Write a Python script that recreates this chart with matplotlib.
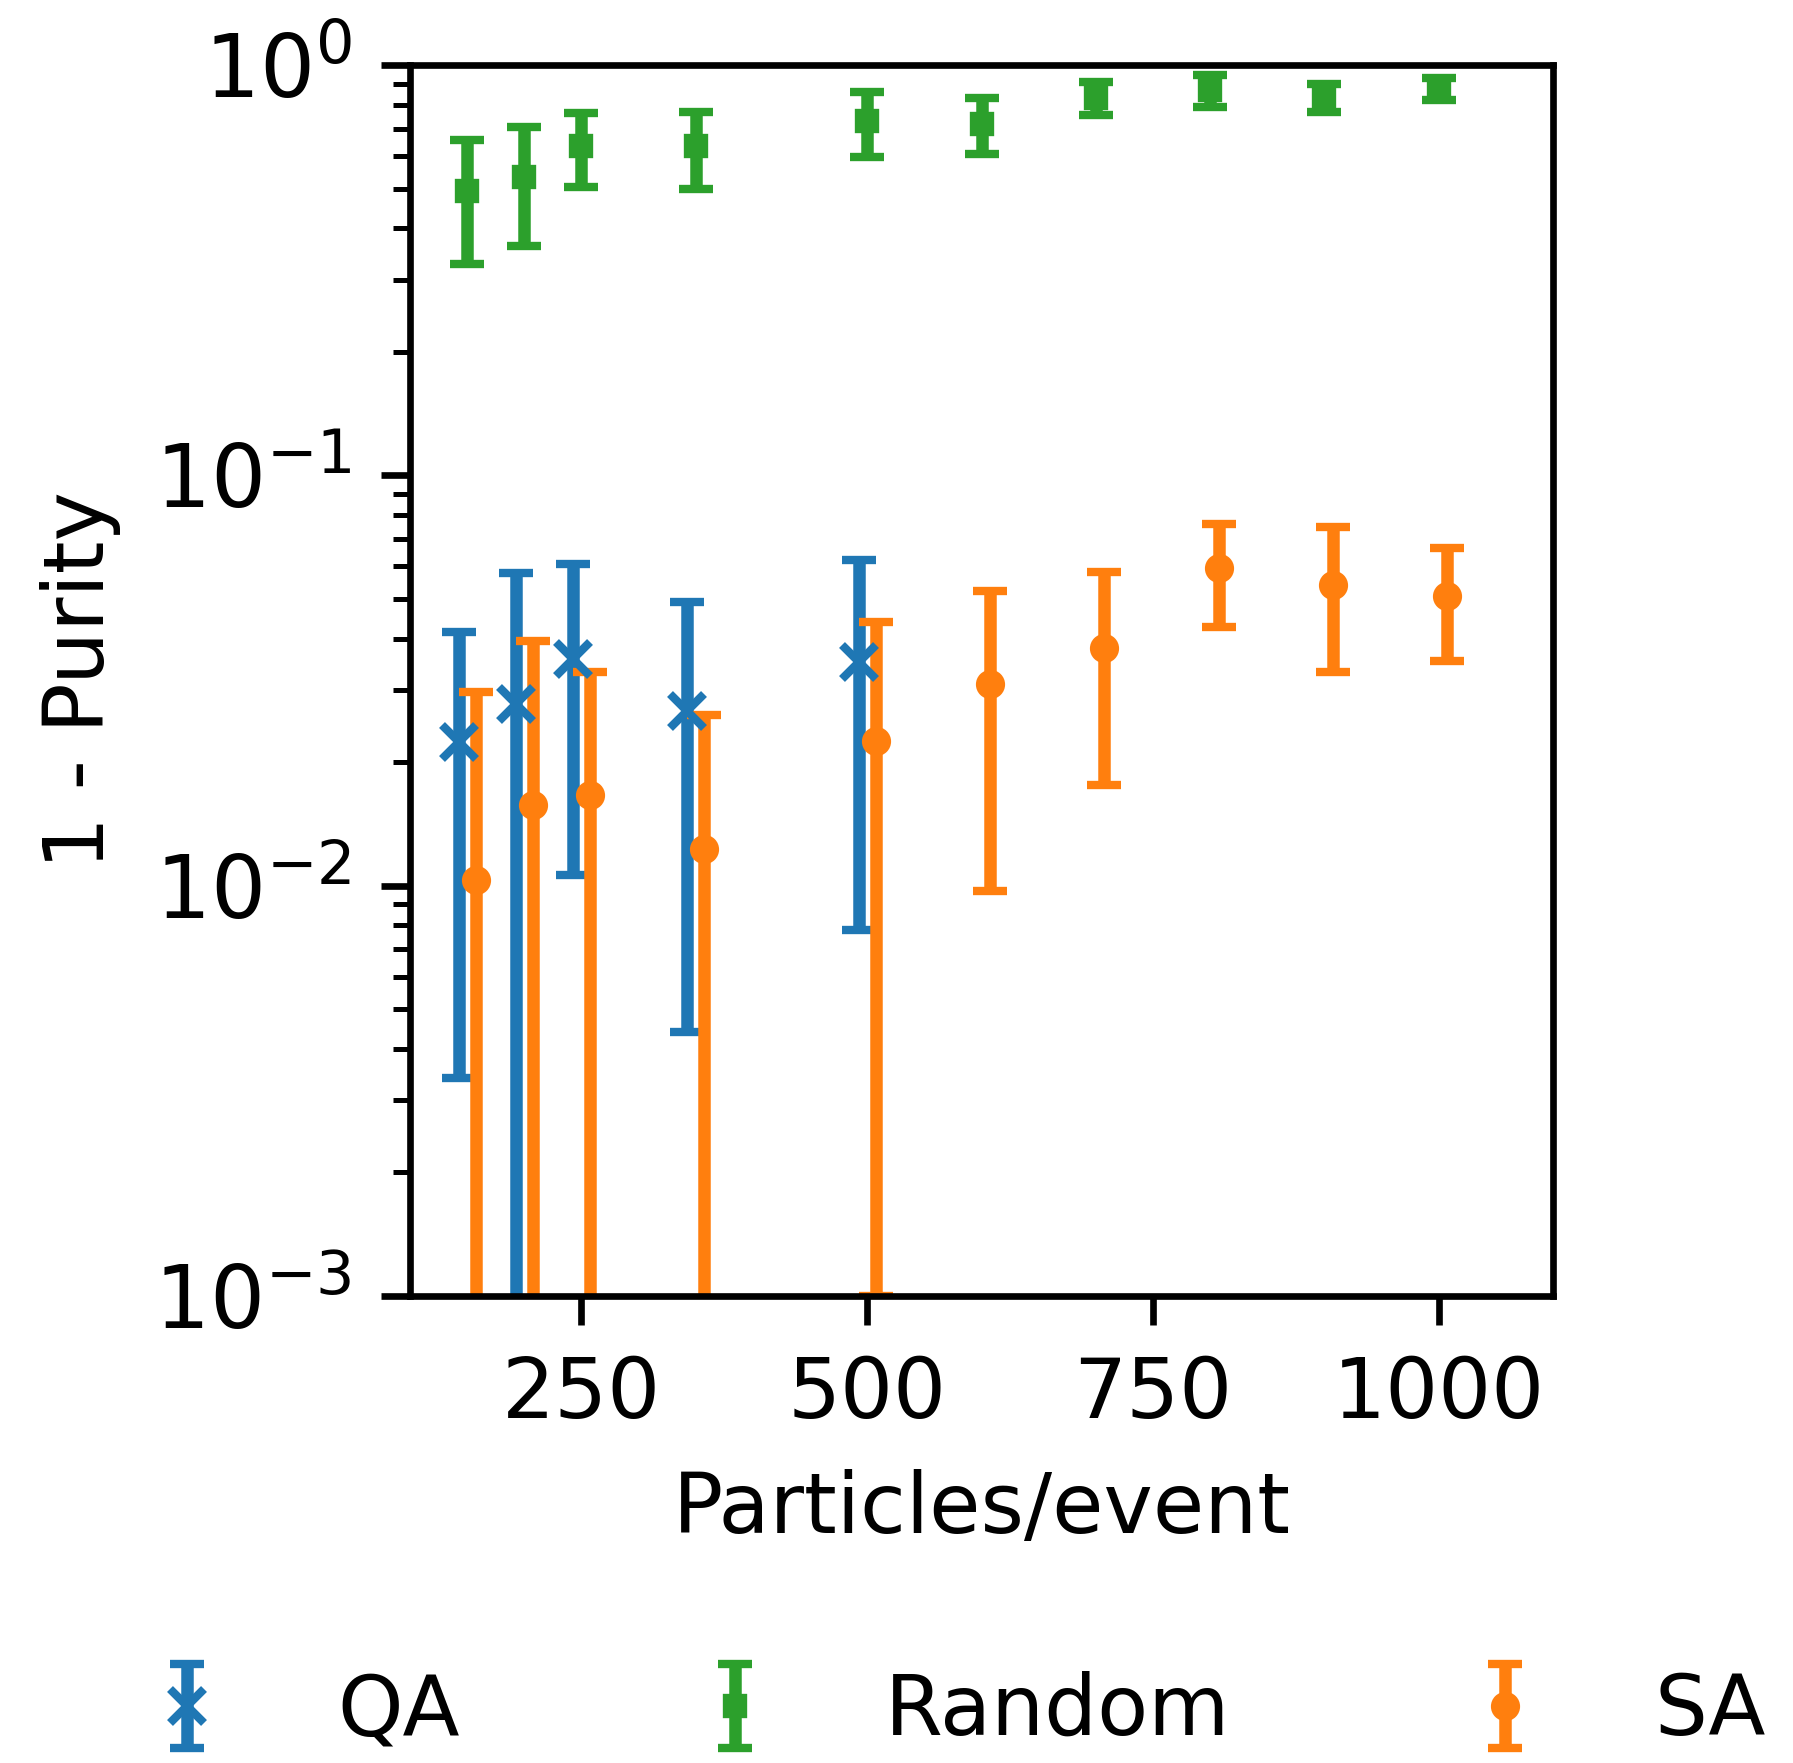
import matplotlib
matplotlib.use("Agg")
import matplotlib.pyplot as plt
import numpy as np

# Particles per event
particles = [150, 200, 250, 350, 500, 600, 700, 800, 900, 1000]
qa_particles = [150, 200, 250, 350, 500]

# 1 - purity: mean and standard deviation over events
qa_mean = [0.0224, 0.0277, 0.0357, 0.0267, 0.0350]
qa_std = [0.0190, 0.0301, 0.0251, 0.0223, 0.0272]

random_mean = [0.492, 0.534, 0.634, 0.633, 0.729, 0.718, 0.832, 0.868, 0.835, 0.875]
random_std = [0.165, 0.171, 0.129, 0.134, 0.131, 0.112, 0.078, 0.079, 0.065, 0.055]

sa_mean = [0.0103, 0.0157, 0.0166, 0.0123, 0.0225, 0.0310, 0.0379, 0.0594, 0.0539, 0.0509]
sa_std = [0.0193, 0.0238, 0.0166, 0.0138, 0.0215, 0.0213, 0.0203, 0.0168, 0.0208, 0.0157]

xticks = [250, 500, 750, 1000]
shift = 7.5

plt.rcParams["font.family"] = "DejaVu Sans"
plt.rcParams["font.size"] = 10

fig = plt.figure(figsize=(1793 / 600, 1763 / 600), dpi=600)
ax = fig.add_axes([0.22867, 0.26489, 0.63748, 0.69824])

ax.errorbar(np.array(qa_particles) - shift, qa_mean, yerr=qa_std,
            fmt="x", color="C0", ms=4, capsize=2, label="QA")
ax.errorbar(particles, random_mean, yerr=random_std,
            fmt="s", color="C2", ms=2, capsize=2, label="Random")
ax.errorbar(np.array(particles) + shift, sa_mean, yerr=sa_std,
            fmt="o", color="C1", ms=2.5, capsize=2, label="SA")

ax.set_yscale("log")
ax.set_ylim(1e-3, 1)
ax.set_xlim(100, 1100)
ax.set_xticks(xticks)
ax.tick_params(axis="y", labelsize=10.4)
ax.set_xlabel("Particles/event")
ax.set_ylabel("1 - Purity")

fig.legend(*ax.get_legend_handles_labels(), loc="center",
           bbox_to_anchor=(0.5215, 0.0292), ncol=3, frameon=False,
           columnspacing=2.3)

fig.savefig("out.png", dpi=600)
